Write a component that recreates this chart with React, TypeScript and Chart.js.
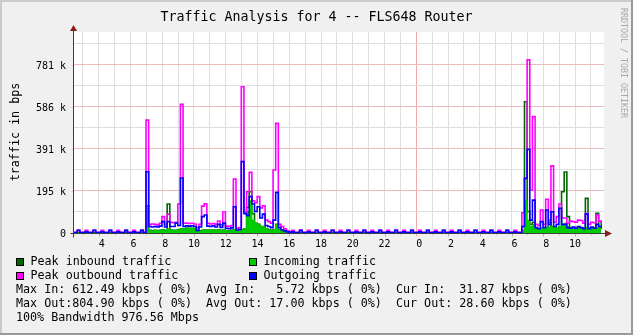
import { useEffect, useRef } from "react";
import { Chart, registerables } from "chart.js";

Chart.register(...registerables);

const W = 633;
const H = 335;

// time grid (hours since start of day 1), 10-minute samples
const T0 = 2.3133;
const STEP = 1 / 6;
const X_MIN = 2.446;
const X_MAX = 35.82;
const Y_MAX = 934.7;

// values in kbps
const peakOut = [
  3, 3, 12, 3, 3, 12, 3, 3, 12, 3,
  3, 12, 3, 3, 12, 3, 3, 12, 3, 3,
  12, 3, 3, 12, 3, 3, 12, 3,
  525, 40, 42, 40, 38, 45, 76, 40, 88, 50,
  48, 50, 135, 598, 45, 46, 44, 45, 42, 25,
  40, 125, 136, 45, 42, 44, 40, 56, 38, 98,
  32, 30, 35, 251, 22, 25, 680, 98, 192, 282,
  150, 141, 169, 116, 127, 60, 53, 45, 293, 510,
  40, 30, 20, 10, 5,
  12, 3, 3, 12, 3, 3, 12, 3, 3, 12,
  3, 3, 12, 3, 3, 12, 3, 3, 12, 3,
  3, 12, 3, 3, 12, 3, 3, 12, 3, 3,
  12, 3, 3, 12, 3, 3, 12, 3, 3, 12,
  3, 3, 12, 3, 3, 12, 3, 3, 12, 3,
  3, 12, 3, 3, 12, 3, 3, 12, 3, 3,
  12, 3, 3, 12, 3, 3, 12, 3, 3, 12,
  3, 3, 12, 3, 3, 12, 3, 3, 12, 3,
  3, 12, 3, 3, 12, 3,
  3,
  94, 254, 805, 200, 541, 40, 35, 107, 40, 157,
  60, 312, 50, 76, 135, 70, 70, 45, 55, 52,
  50, 60, 58, 45, 90, 40, 50, 48, 84, 55,
  45,
];

const avgOut = [
  2, 2, 12, 2, 2, 5, 2, 2, 12, 2,
  2, 5, 2, 2, 12, 2, 2, 5, 2, 2,
  12, 2, 2, 5, 2, 2, 12, 2,
  285, 30, 28, 30, 28, 32, 53, 28, 53, 30,
  30, 46, 35, 256, 30, 33, 32, 34, 30, 12,
  28, 76, 84, 32, 30, 33, 28, 40, 26, 46,
  22, 20, 24, 122, 14, 16, 332, 90, 80, 169,
  135, 100, 122, 70, 88, 35, 30, 25, 60, 189,
  25, 15, 10, 5, 3,
  5, 2, 2, 12, 2, 2, 5, 2, 2, 12,
  2, 2, 5, 2, 2, 12, 2, 2, 5, 2,
  2, 12, 2, 2, 5, 2, 2, 12, 2, 2,
  5, 2, 2, 12, 2, 2, 5, 2, 2, 12,
  2, 2, 5, 2, 2, 12, 2, 2, 5, 2,
  2, 12, 2, 2, 5, 2, 2, 12, 2, 2,
  5, 2, 2, 12, 2, 2, 5, 2, 2, 12,
  2, 2, 5, 2, 2, 12, 2, 2, 5, 2,
  2, 12, 2, 2, 5, 2,
  2,
  30, 254, 389, 60, 153, 25, 20, 53, 25, 107,
  40, 99, 30, 40, 115, 40, 40, 25, 22, 28,
  22, 30, 25, 20, 88, 20, 28, 22, 40, 30,
  28,
];

const avgIn = [
  1, 1, 1, 1, 1, 1, 1, 1, 1, 1,
  1, 1, 1, 1, 1, 1, 1, 1, 1, 1,
  1, 1, 1, 1, 1, 1, 1, 1,
  116, 12, 10, 12, 10, 12, 15, 10, 20, 14,
  12, 12, 15, 20, 20, 22, 22, 22, 20, 8,
  10, 12, 14, 14, 12, 14, 12, 14, 12, 14,
  10, 10, 12, 16, 8, 8, 15, 20, 100, 150,
  60, 45, 40, 30, 30, 20, 15, 12, 15, 40,
  15, 10, 6, 3, 1,
  1, 1, 1, 1, 1, 1, 1, 1, 1, 1,
  1, 1, 1, 1, 1, 1, 1, 1, 1, 1,
  1, 1, 1, 1, 1, 1, 1, 1, 1, 1,
  1, 1, 1, 1, 1, 1, 1, 1, 1, 1,
  1, 1, 1, 1, 1, 1, 1, 1, 1, 1,
  1, 1, 1, 1, 1, 1, 1, 1, 1, 1,
  1, 1, 1, 1, 1, 1, 1, 1, 1, 1,
  1, 1, 1, 1, 1, 1, 1, 1, 1, 1,
  1, 1, 1, 1, 1, 1,
  1,
  10, 150, 60, 30, 40, 20, 18, 22, 20, 25,
  28, 30, 25, 22, 30, 35, 46, 30, 25, 25,
  22, 25, 24, 22, 25, 22, 24, 22, 25, 22,
  20,
];

const peakIn = [
  1, 1, 1, 1, 1, 1, 1, 1, 1, 1,
  1, 1, 1, 1, 1, 1, 1, 1, 1, 1,
  1, 1, 1, 1, 1, 1, 1, 1,
  125, 12, 10, 12, 10, 12, 15, 10, 135, 14,
  12, 12, 15, 20, 20, 22, 22, 22, 20, 8,
  10, 12, 14, 14, 12, 14, 12, 14, 12, 14,
  10, 10, 12, 16, 8, 8, 15, 20, 120, 192,
  90, 45, 40, 30, 30, 20, 15, 12, 15, 40,
  15, 10, 6, 3, 1,
  1, 1, 1, 1, 1, 1, 1, 1, 1, 1,
  1, 1, 1, 1, 1, 1, 1, 1, 1, 1,
  1, 1, 1, 1, 1, 1, 1, 1, 1, 1,
  1, 1, 1, 1, 1, 1, 1, 1, 1, 1,
  1, 1, 1, 1, 1, 1, 1, 1, 1, 1,
  1, 1, 1, 1, 1, 1, 1, 1, 1, 1,
  1, 1, 1, 1, 1, 1, 1, 1, 1, 1,
  1, 1, 1, 1, 1, 1, 1, 1, 1, 1,
  1, 1, 1, 1, 1, 1,
  1,
  10, 610, 100, 40, 50, 20, 18, 22, 20, 25,
  50, 30, 25, 22, 30, 192, 284, 76, 25, 25,
  22, 25, 24, 22, 161, 22, 24, 22, 92, 22,
  53,
];

// axis ticks
const xGridHours = [3, 4, 5, 6, 7, 8, 9, 10, 11, 12, 13, 14, 15, 16, 17, 18, 19, 20, 21, 22, 23, 24, 25, 26, 27, 28, 29, 30, 31, 32, 33, 34, 35];
const xLabelHours = [4, 6, 8, 10, 12, 14, 16, 18, 20, 22, 24, 26, 28, 30, 32, 34];
const xLabels = [" 4", " 6", " 8", "10", "12", "14", "16", "18", "20", "22", " 0", " 2", " 4", " 6", " 8", "10"];
const yGridValues = [0, 97.65625, 195.3125, 292.96875, 390.625, 488.28125, 585.9375, 683.59375, 781.25, 878.90625];
const yLabelValues = [0, 195.3125, 390.625, 585.9375, 781.25];
const yLabels = ["0", "195 k", "391 k", "586 k", "781 k"];

const TITLE = "Traffic Analysis for 4 -- FLS648 Router";
const Y_TITLE = "traffic in bps";
const WATERMARK = "RRDTOOL / TOBI OETIKER";
const legendItems = [
  { label: "Peak inbound traffic", color: "#006600", col: 0, row: 0 },
  { label: "Incoming traffic", color: "#00CC00", col: 1, row: 0 },
  { label: "Peak outbound traffic", color: "#FF00FF", col: 0, row: 1 },
  { label: "Outgoing traffic", color: "#0000FF", col: 1, row: 1 },
];
const statLines = [
  "Max In: 612.49 kbps ( 0%)  Avg In:   5.72 kbps ( 0%)  Cur In:  31.87 kbps ( 0%)",
  "Max Out:804.90 kbps ( 0%)  Avg Out: 17.00 kbps ( 0%)  Cur Out: 28.60 kbps ( 0%)",
  "100% Bandwidth 976.56 Mbps",
];

const MONO = '"DejaVu Sans Mono", monospace';
const MINOR = "#dedede";
const MAJOR = "#ecbcbc";
const MIDNIGHT = "#f3a6a6";

const decor = {
  id: "rrdDecor",
  beforeDraw(chart: any) {
    const { ctx, chartArea: a } = chart;
    ctx.save();
    ctx.fillStyle = "#F0F0F0";
    ctx.fillRect(0, 0, W, H);
    ctx.fillStyle = "#CBCBCB";
    ctx.fillRect(0, 0, W, 2);
    ctx.fillRect(0, 0, 2, H);
    ctx.fillStyle = "#999999";
    ctx.fillRect(0, H - 2, W, 2);
    ctx.fillRect(W - 2, 0, 2, H);
    ctx.fillStyle = "#FFFFFF";
    ctx.fillRect(a.left, a.top, a.right - a.left, a.bottom - a.top);
    ctx.restore();
  },
  afterDraw(chart: any) {
    const { ctx, chartArea: a, scales } = chart;
    const xs = scales.x;
    const ys = scales.y;
    ctx.save();
    const axisY = Math.round(ys.getPixelForValue(0)) + 0.5;
    const axisX = Math.round(a.left) - 0.5;

    // tick marks
    ctx.lineWidth = 1;
    xGridHours.forEach((h) => {
      const px = Math.round(xs.getPixelForValue(h)) + 0.5;
      const major = h % 2 === 0;
      ctx.strokeStyle = h % 24 === 0 ? MIDNIGHT : major ? "#b0b0b0" : "#c8c8c8";
      ctx.beginPath();
      ctx.moveTo(px, axisY);
      ctx.lineTo(px, axisY + (major ? 3 : 2));
      ctx.stroke();
    });
    yGridValues.forEach((v, k) => {
      const py = Math.round(ys.getPixelForValue(v)) + 0.5;
      ctx.strokeStyle = k % 2 === 0 ? MAJOR : MINOR;
      ctx.beginPath();
      ctx.moveTo(axisX - 2, py);
      ctx.lineTo(axisX, py);
      ctx.stroke();
    });

    // axes
    ctx.strokeStyle = "#404040";
    ctx.beginPath();
    ctx.moveTo(axisX - 3, axisY);
    ctx.lineTo(a.right + 2, axisY);
    ctx.moveTo(axisX, axisY + 4);
    ctx.lineTo(axisX, a.top - 2);
    ctx.stroke();

    // arrows
    ctx.fillStyle = "#8b1c1c";
    ctx.beginPath();
    ctx.moveTo(a.right + 1, axisY - 3.5);
    ctx.lineTo(a.right + 8, axisY);
    ctx.lineTo(a.right + 1, axisY + 3.5);
    ctx.closePath();
    ctx.fill();
    ctx.beginPath();
    ctx.moveTo(axisX - 3.5, a.top - 1);
    ctx.lineTo(axisX, a.top - 7);
    ctx.lineTo(axisX + 3.5, a.top - 1);
    ctx.closePath();
    ctx.fill();

    // tick labels
    ctx.fillStyle = "#000000";
    ctx.font = `10px ${MONO}`;
    ctx.textAlign = "center";
    ctx.textBaseline = "alphabetic";
    xLabelHours.forEach((h, i) => {
      ctx.fillText(xLabels[i], xs.getPixelForValue(h), 246.5);
    });
    ctx.textAlign = "right";
    yLabelValues.forEach((v, i) => {
      ctx.fillText(yLabels[i], 66, ys.getPixelForValue(v) + 3.7);
    });

    // title
    ctx.textAlign = "center";
    ctx.font = `13.3px ${MONO}`;
    ctx.fillText(TITLE, 316.5, 20.5);

    // y title
    ctx.save();
    ctx.translate(19, 132);
    ctx.rotate(-Math.PI / 2);
    ctx.font = `11.7px ${MONO}`;
    ctx.fillText(Y_TITLE, 0, 0);
    ctx.restore();

    // watermark
    ctx.save();
    ctx.translate(620.5, 63);
    ctx.rotate(Math.PI / 2);
    ctx.font = `8.3px ${MONO}`;
    ctx.fillStyle = "#a8a8a8";
    ctx.textAlign = "center";
    ctx.fillText(WATERMARK, 0, 0);
    ctx.restore();

    // legend
    ctx.font = `11.7px ${MONO}`;
    ctx.textAlign = "left";
    legendItems.forEach((it) => {
      const bx = it.col === 0 ? 16 : 249;
      const base = 265 + it.row * 14;
      ctx.fillStyle = it.color;
      ctx.fillRect(bx, base - 7, 8, 8);
      ctx.strokeStyle = "#000000";
      ctx.strokeRect(bx + 0.5, base - 6.5, 7, 7);
      ctx.fillStyle = "#000000";
      ctx.fillText(it.label, bx + 14.5, base);
    });
    statLines.forEach((s, i) => {
      ctx.fillText(s, 16, 293 + i * 14);
    });
    ctx.restore();
  },
};

const times = peakOut.map((_, i) => T0 + i * STEP);
const toPoints = (arr: number[]) => arr.map((v, i) => ({ x: times[i], y: v }));

export default function App() {
  const ref = useRef<HTMLCanvasElement | null>(null);
  useEffect(() => {
    document.body.style.margin = "0";
    const canvas = ref.current;
    if (!canvas) return;
    const common = { pointRadius: 0, borderWidth: 1.6, stepped: true, tension: 0 };
    const chart = new Chart(canvas, {
      type: "line",
      data: {
        datasets: [
          { ...common, label: "Outgoing traffic", data: toPoints(avgOut), borderColor: "#0000FF", fill: false, order: 0 },
          { ...common, label: "Peak outbound traffic", data: toPoints(peakOut), borderColor: "#FF00FF", fill: false, order: 1 },
          { ...common, borderWidth: 1, label: "Incoming traffic", data: toPoints(avgIn), borderColor: "#00CC00", backgroundColor: "#00CC00", fill: "origin", order: 2 },
          { ...common, label: "Peak inbound traffic", data: toPoints(peakIn), borderColor: "#006600", fill: false, order: 3 },
        ] as any,
      },
      options: {
        responsive: false,
        maintainAspectRatio: false,
        animation: false,
        devicePixelRatio: 1,
        layout: { padding: { left: 74, right: 29, top: 32, bottom: 102 } },
        plugins: { legend: { display: false }, tooltip: { enabled: false }, title: { display: false } },
        scales: {
          x: {
            type: "linear",
            min: X_MIN,
            max: X_MAX,
            afterBuildTicks: (scale: any) => {
              scale.ticks = xGridHours.map((v) => ({ value: v }));
            },
            ticks: { display: false },
            border: { display: false },
            grid: {
              drawTicks: false,
              lineWidth: 1,
              color: (c: any) => (c.tick && c.tick.value % 24 === 0 ? MIDNIGHT : MINOR),
            },
          },
          y: {
            type: "linear",
            min: 0,
            max: Y_MAX,
            afterBuildTicks: (scale: any) => {
              scale.ticks = yGridValues.map((v) => ({ value: v }));
            },
            ticks: { display: false },
            border: { display: false },
            grid: {
              drawTicks: false,
              lineWidth: 1,
              color: (c: any) => {
                if (!c.tick) return MINOR;
                const k = Math.round(c.tick.value / 97.65625);
                return k % 2 === 0 ? MAJOR : MINOR;
              },
            },
          },
        },
      } as any,
      plugins: [decor],
    });
    return () => chart.destroy();
  }, []);
  return <canvas ref={ref} width={W} height={H} style={{ display: "block", width: W, height: H }} />;
}
